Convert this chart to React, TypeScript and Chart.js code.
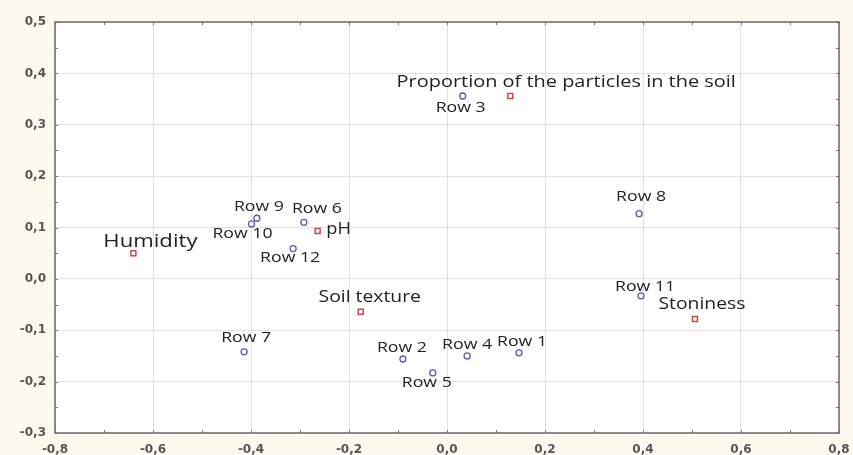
import React, { useEffect, useRef } from "react";
import { Chart, registerables } from "chart.js";

Chart.register(...registerables);

const rowNames = ["Row 1", "Row 2", "Row 3", "Row 4", "Row 5", "Row 6", "Row 7", "Row 8", "Row 9", "Row 10", "Row 11", "Row 12"];
const rowX = [0.147, -0.09, 0.032, 0.041, -0.029, -0.292, -0.414, 0.392, -0.388, -0.399, 0.396, -0.314];
const rowY = [-0.144, -0.156, 0.356, -0.15, -0.183, 0.11, -0.142, 0.127, 0.118, 0.107, -0.033, 0.059];

const varNames = ["Humidity", "Proportion of the particles in the soil", "pH", "Soil texture", "Stoniness"];
const varX = [-0.64, 0.129, -0.264, -0.176, 0.506];
const varY = [0.05, 0.356, 0.093, -0.064, -0.078];

// label placement (style): offset of text centre from its point, in px
const rowLabelDx = [3, -1, -2, 0, -6, 13, 2, 2, 2, -9, 4, -3];
const rowLabelDy = [-11, -11, 12, -11, 10, -14, -14, -17, -12, 10, -9, 9];
const varLabelDx = [17, 56, 21, 9, 7];
const varLabelDy = [-12, -14, -2, -14, -15];
const varLabelSize = [18.8, 16.9, 15.5, 16.4, 16.4];

const fmt = (v: number) => (Math.round(v * 10) / 10).toFixed(1).replace(".", ",");

const bgPlugin = {
  id: "bg",
  beforeDraw(chart: any) {
    const { ctx, chartArea: a } = chart;
    ctx.save();
    ctx.fillStyle = "#fcf9ee";
    ctx.fillRect(0, 0, chart.width, chart.height);
    ctx.fillStyle = "#ffffff";
    ctx.fillRect(a.left, a.top, a.right - a.left, a.bottom - a.top);
    ctx.restore();
  },
};

const frameplugin = {
  id: "frame",
  afterDatasetsDraw(chart: any) {
    const { ctx, chartArea: a, scales } = chart;
    const xs = scales.x;
    const ys = scales.y;
    ctx.save();
    ctx.strokeStyle = "#777777";
    ctx.lineWidth = 1;
    ctx.beginPath();
    for (let i = -8; i <= 8; i++) {
      const px = Math.round(xs.getPixelForValue(i / 10)) + 0.5;
      ctx.moveTo(px, a.top);
      ctx.lineTo(px, a.top + 3);
      ctx.moveTo(px, a.bottom);
      ctx.lineTo(px, a.bottom - 3);
    }
    for (let i = -6; i <= 10; i++) {
      const py = Math.round(ys.getPixelForValue(i / 20)) + 0.5;
      ctx.moveTo(a.left, py);
      ctx.lineTo(a.left + 3, py);
      ctx.moveTo(a.right, py);
      ctx.lineTo(a.right - 3, py);
    }
    ctx.stroke();
    ctx.strokeStyle = "#6a6a6a";
    ctx.lineWidth = 1.5;
    ctx.strokeRect(a.left, a.top, a.right - a.left, a.bottom - a.top);
    ctx.restore();
  },
};

const labelPlugin = {
  id: "pointLabels",
  afterDatasetsDraw(chart: any) {
    const { ctx } = chart;
    const draw = (text: string, x: number, y: number, size: number) => {
      ctx.save();
      ctx.translate(x, y);
      ctx.scale(1.18, 1);
      ctx.font = `${size}px "Open Sans"`;
      ctx.fillStyle = "#222222";
      ctx.textAlign = "center";
      ctx.textBaseline = "middle";
      ctx.fillText(text, 0, 0);
      ctx.restore();
    };
    const m0 = chart.getDatasetMeta(0);
    m0.data.forEach((el: any, i: number) => {
      draw(rowNames[i], el.x + rowLabelDx[i], el.y + rowLabelDy[i], 15);
    });
    const m1 = chart.getDatasetMeta(1);
    m1.data.forEach((el: any, i: number) => {
      draw(varNames[i], el.x + varLabelDx[i], el.y + varLabelDy[i], varLabelSize[i]);
    });
  },
};

export default function App() {
  const ref = useRef<HTMLCanvasElement>(null);
  useEffect(() => {
    document.body.style.margin = "0";
    const chart = new Chart(ref.current!, {
      type: "scatter",
      data: {
        datasets: [
          {
            label: "Rows",
            data: rowX.map((x, i) => ({ x, y: rowY[i] })),
            pointStyle: "circle",
            radius: 3,
            borderWidth: 1.3,
            borderColor: "#5a5aa8",
            backgroundColor: "rgba(255,255,255,0)",
          },
          {
            label: "Variables",
            data: varX.map((x, i) => ({ x, y: varY[i] })),
            pointStyle: "rect",
            radius: 3.5,
            borderWidth: 1.5,
            borderColor: "#c84848",
            backgroundColor: "rgba(255,255,255,0)",
          },
        ],
      },
      options: {
        animation: false,
        responsive: false,
        layout: { padding: { top: 22, right: 14, left: 0, bottom: 0 } },
        plugins: { legend: { display: false }, tooltip: { enabled: false } },
        scales: {
          x: {
            type: "linear",
            min: -0.8,
            max: 0.8,
            afterFit: (s: any) => { s.height = 22; },
            ticks: {
              stepSize: 0.2,
              padding: 2,
              maxRotation: 0,
              color: "#555555",
              font: { family: "DejaVu Sans", size: 12, weight: "bold" },
              callback: (v: any) => fmt(Number(v)),
            },
            grid: { color: "#e2e2e2", drawTicks: true, tickLength: 8, tickColor: "rgba(0,0,0,0)" },
            border: { display: false },
          },
          y: {
            type: "linear",
            min: -0.3,
            max: 0.5,
            afterFit: (s: any) => { s.width = 55; },
            ticks: {
              stepSize: 0.1,
              padding: 9,
              color: "#555555",
              font: { family: "DejaVu Sans", size: 12, weight: "bold" },
              callback: (v: any) => fmt(Number(v)),
            },
            grid: { color: "#e2e2e2", drawTicks: false },
            border: { display: false },
          },
        },
      },
      plugins: [bgPlugin, frameplugin, labelPlugin],
    } as any);
    return () => chart.destroy();
  }, []);
  return <canvas ref={ref} width={853} height={455} style={{ display: "block" }} />;
}
